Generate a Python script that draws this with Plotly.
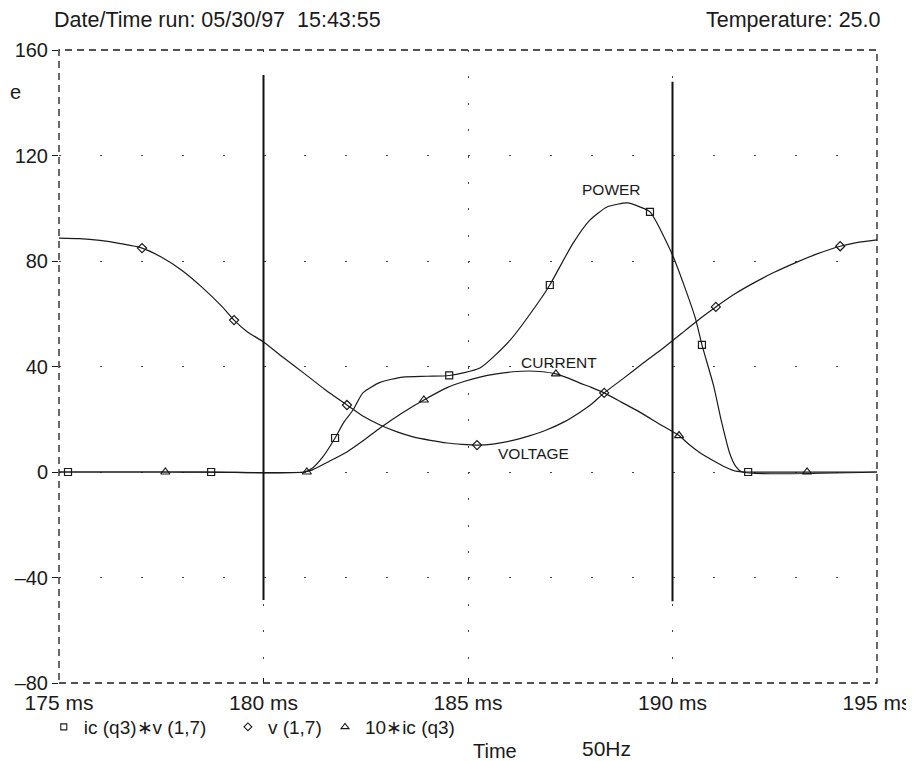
import plotly.graph_objects as go

# --- power: ic(q3)*v(1,7) ---
power_t = [175.0, 178.7, 181.0, 181.2, 181.45, 181.75, 181.97, 182.19, 182.43, 182.85, 183.41, 184.0,
           184.54, 185.29, 186.03, 186.76, 187.0, 187.57, 187.98, 188.4, 188.9, 189.2, 189.45, 190.0,
           190.55, 190.72, 191.0, 191.2, 191.4, 191.55, 191.7, 195.0]
power_v = [0, 0, 0, 1.5, 5.7, 12.9, 19, 23.5, 30, 34, 36, 36.3,
           36.6, 39.4, 50, 65.2, 70.9, 86.8, 95.5, 100.5, 102, 100.5, 98.6, 82.3,
           58.8, 48.2, 33, 19, 7, 2, 0, 0]
power_mark_t = [175.22, 178.72, 181.75, 184.54, 187.0, 189.45, 190.72, 191.85]
power_mark_v = [0, 0, 12.9, 36.6, 70.9, 98.6, 48.2, 0]

# --- voltage: v(1,7) ---
volt_t = [175.0, 175.5, 176.0, 176.5, 177.03, 177.5, 178.0, 178.5, 179.0, 179.28, 179.6, 180.0,
          180.5, 181.0, 181.5, 182.04, 182.45, 182.85, 183.25, 183.66, 184.08, 184.49, 184.85, 185.22,
          185.65, 186.1, 186.5, 186.93, 187.35, 187.74, 188.0, 188.33, 188.8, 189.3, 189.8, 190.3,
          190.7, 191.06, 191.5, 192.0, 192.5, 193.0, 193.5, 194.1, 194.5, 195.0]
volt_v = [88.7, 88.5, 87.8, 86.6, 84.9, 81.5, 76.5, 70.0, 62.5, 57.6, 53.2, 49.3,
          43.2, 37.3, 31.3, 25.4, 21, 17.8, 15.3, 13.3, 12, 11, 10.5, 10.2,
          10.7, 12, 13.7, 16, 19, 22.7, 25.5, 30, 35.5, 41.5, 47.3, 53.5,
          58.5, 62.6, 67.3, 71.8, 75.8, 79.3, 82.5, 85.6, 87.0, 88.0]
volt_mark_t = [177.03, 179.28, 182.04, 185.22, 188.33, 191.06, 194.1]
volt_mark_v = [84.9, 57.6, 25.4, 10.2, 30, 62.6, 85.6]

# --- current: 10*ic(q3) ---
curr_t = [175.0, 177.6, 181.0, 181.2, 181.6, 182.04, 182.45, 182.85, 183.4, 183.92, 184.49, 184.9,
          185.29, 185.7, 186.1, 186.5, 186.76, 187.15, 187.45, 187.74, 188.0, 188.33, 188.75, 189.2,
          189.7, 190.16, 190.4, 190.67, 191.0, 191.3, 191.55, 191.8, 195.0]
curr_v = [0, 0, 0, 0.8, 4, 7.6, 12, 16.7, 22.5, 27.3, 32, 34.3,
          36, 37.2, 38, 38.3, 38.1, 37.2, 35.6, 33.7, 32.2, 30, 26.5, 22.7,
          18, 13.8, 10.5, 7.3, 4.3, 1.8, 0.3, 0, 0]
curr_mark_t = [177.6, 181.06, 183.92, 187.15, 190.16, 193.29]
curr_mark_v = [0, 0, 27.3, 37.2, 13.8, 0]

# cursors
cursor_t = [180, 190]
cursor_top = [150.5, 148]
cursor_bottom = [-48.5, -49]

x_ticks = [175, 180, 185, 190, 195]
x_ticktext = ["175 ms", "180 ms", "185 ms", "190 ms", "195 ms"]
y_ticks = [-80, -40, 0, 40, 80, 120, 160]
y_ticktext = ["\u201380", "\u201340", "0", "40", "80", "120", "160"]

FONT = "Liberation Sans, Arial, sans-serif"
INK = "#1a1a1a"

fig = go.Figure()

# curves
for t, v in [(power_t, power_v), (volt_t, volt_v), (curr_t, curr_v)]:
    fig.add_trace(go.Scatter(x=t, y=v, mode="lines", line=dict(color=INK, width=1.2, shape="spline", smoothing=0.6),
                             showlegend=False, hoverinfo="skip"))

# cursor lines
for ct, top, bot in zip(cursor_t, cursor_top, cursor_bottom):
    fig.add_trace(go.Scatter(x=[ct, ct], y=[bot, top], mode="lines", line=dict(color="#111", width=2),
                             showlegend=False, hoverinfo="skip"))

# markers on the curves
marker_specs = [
    (power_mark_t, power_mark_v, "square-open", 7, "ic (q3)\u2217v (1,7)", "legend"),
    (volt_mark_t, volt_mark_v, "diamond-open", 7, "v (1,7)", "legend2"),
    (curr_mark_t, curr_mark_v, "triangle-up-open", 8, "10\u2217ic (q3)", "legend3"),
]
for mt, mv, sym, size, name, leg in marker_specs:
    fig.add_trace(go.Scatter(x=mt, y=mv, mode="markers",
                             marker=dict(symbol=sym, size=size, color=INK, line=dict(width=1.2, color=INK)),
                             showlegend=False, hoverinfo="skip"))
    # legend-only entry
    fig.add_trace(go.Scatter(x=[None], y=[None], mode="markers", name=name, legend=leg,
                             marker=dict(symbol=sym, size=size - 1, color=INK, line=dict(width=1.1, color=INK))))

legend_style = dict(orientation="h", yanchor="middle", y=-0.0695, xanchor="left",
                    font=dict(family=FONT, size=19, color=INK), bgcolor="rgba(0,0,0,0)",
                    itemwidth=30)

# page body adds an 8px offset, so the figure is 8px smaller on each side
fig.update_layout(
    width=906, height=753,
    margin=dict(l=51, r=37, t=42, b=78, autoexpand=False),
    paper_bgcolor="white", plot_bgcolor="white",
    font=dict(family=FONT, color=INK),
    legend=dict(x=-0.0186, **legend_style),
    legend2=dict(x=0.2065, **legend_style),
    legend3=dict(x=0.3252, **legend_style),
    xaxis=dict(range=[175, 195], tickvals=x_ticks, ticktext=x_ticktext, showline=False, zeroline=False,
               showgrid=True, gridcolor="#444", gridwidth=1.2, griddash="2px,24.375px",
               ticks="inside", ticklen=5, tickcolor=INK, ticklabelstandoff=5,
               tickfont=dict(family=FONT, size=21, color=INK)),
    yaxis=dict(range=[-80, 160], tickvals=y_ticks, ticktext=y_ticktext, showline=False, zeroline=False,
               showgrid=True, gridcolor="#444", gridwidth=1.2, griddash="2px,38.9px",
               ticks="outside", ticklen=6, tickcolor=INK, tickfont=dict(family=FONT, size=20, color=INK)),
    shapes=[dict(type="rect", xref="x domain", yref="y domain", x0=0, x1=1, y0=0, y1=1,
                 line=dict(color=INK, width=1.3, dash="7px,5px"), layer="above")],
)

annots = [
    dict(text="Date/Time run: 05/30/97\u00a0\u00a015:43:55", x=-0.0086, y=1.0474, xanchor="left", size=21.5),
    dict(text="Temperature: 25.0", x=1.0073, y=1.0474, xanchor="right", size=21.5),
    dict(text="Time", x=0.533, y=-0.1074, xanchor="center", size=20),
    dict(text="50Hz", x=0.669, y=-0.104, xanchor="center", size=21),
    dict(text="e", x=-0.0623, y=0.933, xanchor="left", size=20),
]
for a in annots:
    fig.add_annotation(text=a["text"], xref="paper", yref="paper", x=a["x"], y=a["y"],
                       xanchor=a["xanchor"], yanchor="middle", showarrow=False,
                       font=dict(family=FONT, size=a["size"], color=INK))

curve_labels = [("POWER", 188.52, 107.3), ("CURRENT", 187.22, 41.7), ("VOLTAGE", 186.59, 7.2)]
for txt, lx, ly in curve_labels:
    fig.add_annotation(text=txt, x=lx, y=ly, xref="x", yref="y", showarrow=False,
                       font=dict(family=FONT, size=15.5, color=INK))

fig.write_html("out.html")
